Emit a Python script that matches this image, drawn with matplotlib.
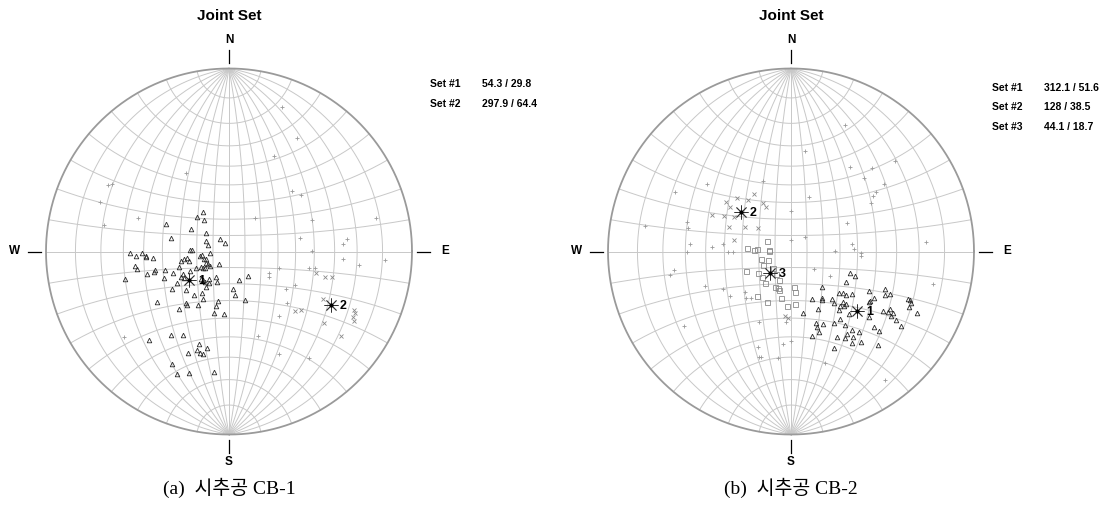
import numpy as np
import matplotlib
matplotlib.use("Agg")
import matplotlib.pyplot as plt

# joint poles as (dip direction, dip) pairs, lower hemisphere
cb1_tri_dd = [146, 137, 142, 114, 121, 129, 103, 115, 107, 144, 157, 93, 92, 89, 87, 89, 87, 86, 85, 79,
              81, 81, 77, 82, 83, 73, 73, 86, 63, 60, 53, 55, 58, 62, 39, 81, 79, 75, 75, 76,
              74, 73, 64, 63, 69, 64, 62, 60, 75, 68, 45, 42, 38, 37, 33, 27, 21, 341, 322, 59,
              57, 48, 33, 354, 39, 33, 29, 352, 13, 342, 55, 40, 38, 30, 13, 41, 14, 5, 35, 29,
              42, 18, 18, 16, 14, 13, 22, 27, 23, 18, 7]
cb1_tri_dip = [29, 29, 25, 41, 27, 18, 36, 16, 14, 10, 6, 23, 24, 57, 54, 51, 49, 49, 45, 30,
               28, 26, 25, 18, 17, 15, 16, 12, 16, 15, 15, 18, 19, 20, 10, 55, 54, 50, 46, 45,
               40, 32, 23, 27, 36, 31, 33, 32, 61, 42, 24, 24, 24, 21, 23, 18, 20, 19, 19, 37,
               41, 35, 26, 23, 34, 30, 33, 27, 31, 31, 51, 40, 41, 37, 34, 45, 38, 38, 58, 55,
               66, 56, 59, 60, 60, 57, 62, 69, 72, 70, 67]
cb1_x_dd = [284, 285, 284, 297, 312, 309, 295, 296, 298, 299, 307, 307]
cb1_x_dip = [52, 57, 60, 60, 52, 54, 74, 75, 75, 76, 66, 75]
cb1_dot_dd = [200, 211, 205, 151, 119, 120, 226, 232, 111, 110, 218, 249, 257, 102, 259, 266, 264,
              270, 274, 276, 273, 298, 303, 288, 282, 281, 297, 303, 312, 322, 341, 334, 323, 51]
cb1_dot_dip = [80, 72, 60, 52, 74, 73, 51, 53, 74, 56, 26, 52, 79, 70, 43, 64, 66,
               49, 64, 71, 81, 28, 29, 32, 48, 51, 44, 41, 46, 48, 52, 64, 72, 73]
cb1_sets = [(54.3, 29.8), (297.9, 64.4)]

cb2_tri_dd = [290, 291, 299, 319, 311, 308, 308, 305, 297, 292, 293, 295, 299, 326, 327, 336, 319, 320,
              314, 314, 316, 302, 303, 292, 292, 293, 295, 318, 335, 321, 317, 349, 310, 303, 302, 301,
              303, 300, 296, 324, 303, 304, 341, 341, 336, 329, 324, 312, 322, 320, 312, 341, 346, 332,
              326, 328, 324, 322, 326, 336, 317]
cb2_tri_dip = [38, 41, 38, 29, 38, 40, 42, 44, 51, 58, 61, 59, 55, 34, 35, 32, 38, 40,
               43, 45, 45, 54, 54, 69, 70, 71, 71, 44, 38, 45, 50, 38, 58, 62, 64, 66,
               66, 64, 75, 49, 69, 72, 45, 47, 47, 49, 53, 63, 57, 60, 66, 50, 51, 56,
               57, 58, 60, 64, 62, 60, 70]
cb2_sq_dd = [113, 95, 92, 95, 94, 92, 76, 70, 64, 67, 57, 49, 47, 33, 23, 39, 25, 17, 20, 12,
             355, 354, 37, 25, 4, 356]
cb2_sq_dip = [16, 27, 23, 21, 14, 14, 19, 15, 19, 30, 24, 24, 15, 17, 19, 25, 24, 25, 24, 29,
              22, 25, 34, 34, 33, 32]
cb2_x_dd = [147, 135, 140, 127, 126, 150, 151, 115, 118, 121, 112, 118, 125, 101, 5, 3]
cb2_x_dip = [41, 45, 40, 48, 45, 34, 31, 51, 45, 40, 40, 32, 25, 35, 39, 40]
cb2_dot_dd = [158, 129, 117, 100, 106, 103, 94, 93, 96, 90, 90, 90, 178, 81, 79, 68, 61, 54, 49, 44,
              41, 55, 24, 4, 19, 17, 16, 7, 5, 0, 307, 302, 271, 274, 269, 283, 343, 324, 203, 188,
              215, 224, 229, 225, 234, 236, 235, 239, 198, 180, 243, 224, 263, 268, 266]
cb2_dot_dip = [45, 61, 71, 78, 61, 60, 58, 47, 41, 38, 35, 59, 7, 66, 68, 54, 46, 45, 37, 39,
               37, 71, 46, 42, 58, 62, 62, 61, 54, 52, 18, 28, 42, 42, 27, 77, 65, 82, 74, 58,
               59, 65, 74, 59, 64, 57, 59, 54, 35, 25, 38, 13, 37, 38, 73]
cb2_sets = [(312.1, 51.6), (128, 38.5), (44.1, 18.7)]

W, H = 1114, 513
R = 183.0
GRID = '#c8c8c8'


def pole_xy(dd, dip):
    # stereographic (Wulff) projection of the pole to each plane
    dd = np.radians(np.asarray(dd, float))
    dip = np.radians(np.asarray(dip, float))
    trend = dd + np.pi
    plunge = np.pi / 2 - dip
    vx = np.cos(plunge) * np.sin(trend)
    vy = np.cos(plunge) * np.cos(trend)
    vz = np.sin(plunge)
    return vx / (1 + vz), vy / (1 + vz)


def wulff_net(ax):
    t = np.radians(np.linspace(-90, 90, 361))
    for d in range(10, 171, 10):
        dr = np.radians(d)
        vx, vy, vz = np.cos(t) * np.cos(dr), np.sin(t), np.cos(t) * np.sin(dr)
        ax.plot(vx / (1 + vz), vy / (1 + vz), color=GRID, lw=0.7, zorder=1)
    phi = np.radians(np.linspace(0, 180, 361))
    for a in range(10, 171, 10):
        ar = np.radians(a)
        vx, vy, vz = np.sin(ar) * np.cos(phi), np.full_like(phi, np.cos(ar)), np.sin(ar) * np.sin(phi)
        ax.plot(vx / (1 + vz), vy / (1 + vz), color=GRID, lw=0.7, zorder=1)
    u = np.linspace(0, 2 * np.pi, 721)
    ax.plot(np.cos(u), np.sin(u), color='#9a9a9a', lw=1.3, zorder=2)

    kw = dict(color='black', lw=0.9, clip_on=False)
    ax.plot([0, 0], [1.03, 1.10], **kw)
    ax.plot([0, 0], [-1.03, -1.10], **kw)
    ax.plot([-1.10, -1.03], [0, 0], **kw)
    ax.plot([1.03, 1.10], [0, 0], **kw)
    tk = dict(fontsize=8.5, fontweight='bold', ha='center', va='center', family='Liberation Sans')
    ax.text(0, 1.156, 'N', **tk)
    ax.text(0, -1.15, 'S', **tk)
    ax.text(-1.17, 0.0, 'W', **tk)
    ax.text(1.18, 0.0, 'E', **tk)
    ax.text(0, 1.285, 'Joint Set', fontsize=11, fontweight='bold', ha='center', va='center',
            family='Liberation Sans')


def set_stars(ax, sets, rows_y):
    for i, (dd, dip) in enumerate(sets):
        x, y = pole_xy(dd, dip)
        ax.plot(x, y, marker=(8, 2, 0), ms=10, mew=0.6, color='#333333', zorder=6)
        ax.plot(x, y, 'o', ms=2, color='black', zorder=7)
        ax.text(x + 0.05, y - 0.005, str(i + 1), fontsize=9, fontweight='bold', va='center',
                ha='left', family='Liberation Sans', zorder=7)
        ax.text(1.10, rows_y[i], 'Set #%d' % (i + 1), fontsize=7.5, fontweight='bold',
                va='center', family='Liberation Sans')
        ax.text(1.385, rows_y[i], '%g / %g' % (dd, dip), fontsize=7.5, fontweight='bold',
                va='center', family='Liberation Sans')


def make_axes(fig, cx, cy):
    half = 1.5
    ax = fig.add_axes([(cx - half * R) / W, (H - cy - half * R) / H, 2 * half * R / W, 2 * half * R / H])
    ax.set_xlim(-half, half)
    ax.set_ylim(-half, half)
    ax.set_aspect('equal')
    ax.axis('off')
    return ax


fig = plt.figure(figsize=(W / 100, H / 100), dpi=100)

ax1 = make_axes(fig, 229, 251.5)
wulff_net(ax1)
x, y = pole_xy(cb1_dot_dd, cb1_dot_dip)
ax1.plot(x, y, '+', ms=2.4, mew=0.6, color='#9a9a9a', zorder=3)
x, y = pole_xy(cb1_x_dd, cb1_x_dip)
ax1.plot(x, y, 'x', ms=3.0, mew=0.6, color='#8a8a8a', zorder=3)
x, y = pole_xy(cb1_tri_dd, cb1_tri_dip)
ax1.plot(x, y, '^', ms=3.3, mew=0.6, mfc='none', mec='#2a2a2a', zorder=4)
set_stars(ax1, cb1_sets, [0.915, 0.806])
ax1.text(0.0, -1.292, '(a)  시추공 CB-1', fontsize=14, ha='center', va='center',
         family=['Liberation Serif', 'Noto Sans CJK KR'])

ax2 = make_axes(fig, 791, 251.5)
wulff_net(ax2)
x, y = pole_xy(cb2_dot_dd, cb2_dot_dip)
ax2.plot(x, y, '+', ms=2.4, mew=0.6, color='#9a9a9a', zorder=3)
x, y = pole_xy(cb2_x_dd, cb2_x_dip)
ax2.plot(x, y, 'x', ms=3.0, mew=0.6, color='#8a8a8a', zorder=3)
x, y = pole_xy(cb2_sq_dd, cb2_sq_dip)
ax2.plot(x, y, 's', ms=3.6, mew=0.6, mfc='none', mec='#8a8a8a', zorder=3)
x, y = pole_xy(cb2_tri_dd, cb2_tri_dip)
ax2.plot(x, y, '^', ms=3.3, mew=0.6, mfc='none', mec='#2a2a2a', zorder=4)
set_stars(ax2, cb2_sets, [0.893, 0.790, 0.680])
ax2.text(0.0, -1.292, '(b)  시추공 CB-2', fontsize=14, ha='center', va='center',
         family=['Liberation Serif', 'Noto Sans CJK KR'])

fig.savefig('out.png', dpi=100)
